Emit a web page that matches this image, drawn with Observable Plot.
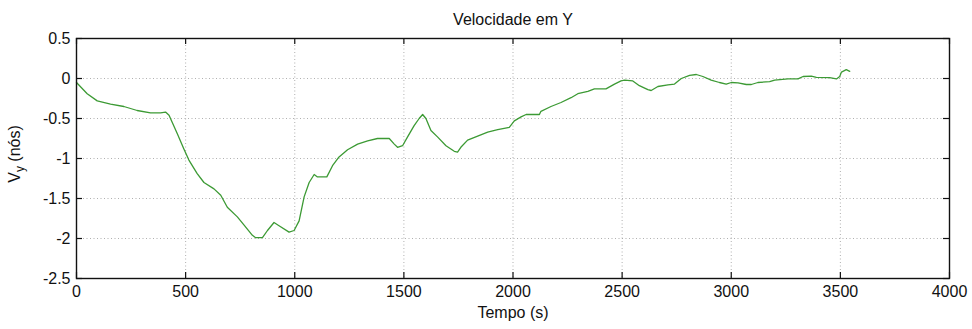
<!DOCTYPE html>
<html>
<head>
<meta charset="utf-8">
<script src="https://cdn.jsdelivr.net/npm/d3@7"></script>
<script src="https://cdn.jsdelivr.net/npm/@observablehq/plot@0.6"></script>
<style>
  html, body { margin: 0; padding: 0; background: #fff; }
  #chart { width: 972px; height: 329px; }
</style>
</head>
<body>
<div id="chart"></div>
<script>
// Lateral velocity (Vy, knots) over time (s)
const tempo = [
  0, 49, 95, 156, 217, 278, 339, 385, 408, 424,
  462, 492, 515, 553, 584, 630, 661, 691, 737, 767,
  806, 821, 852, 875, 905, 928, 974, 997, 1020, 1043,
  1066, 1089, 1104, 1147, 1173, 1203, 1242, 1288, 1334, 1379,
  1433, 1456, 1471, 1494, 1517, 1547, 1570, 1586, 1601, 1624,
  1654, 1693, 1731, 1746, 1761, 1792, 1838, 1884, 1930, 1983,
  2006, 2037, 2060, 2121, 2128, 2174, 2220, 2266, 2297, 2343,
  2373, 2426, 2465, 2495, 2511, 2549, 2579, 2618, 2633, 2664,
  2710, 2740, 2771, 2809, 2840, 2870, 2908, 2946, 2977, 3000,
  3031, 3069, 3092, 3122, 3176, 3199, 3260, 3306, 3329, 3367,
  3390, 3451, 3482, 3497, 3505, 3527, 3543
];
const vy = [
  -0.05, -0.19, -0.28, -0.32, -0.35, -0.40, -0.43, -0.43, -0.42, -0.46,
  -0.69, -0.88, -1.02, -1.19, -1.30, -1.38, -1.46, -1.61, -1.73, -1.83,
  -1.96, -1.99, -1.99, -1.90, -1.80, -1.84, -1.92, -1.90, -1.78, -1.48,
  -1.30, -1.20, -1.23, -1.23, -1.09, -0.98, -0.89, -0.82, -0.78, -0.75,
  -0.75, -0.82, -0.86, -0.84, -0.73, -0.59, -0.50, -0.45, -0.50, -0.65,
  -0.73, -0.84, -0.91, -0.92, -0.86, -0.77, -0.72, -0.67, -0.64, -0.61,
  -0.53, -0.48, -0.45, -0.45, -0.41, -0.35, -0.30, -0.24, -0.19, -0.16,
  -0.13, -0.13, -0.07, -0.03, -0.02, -0.03, -0.09, -0.14, -0.15, -0.10,
  -0.08, -0.07, 0.00, 0.04, 0.05, 0.025, -0.02, -0.05, -0.07, -0.05,
  -0.055, -0.075, -0.075, -0.05, -0.04, -0.02, -0.005, -0.005, 0.025, 0.03,
  0.015, 0.01, -0.005, 0.025, 0.08, 0.11, 0.09
];

const xTicks = [0, 500, 1000, 1500, 2000, 2500, 3000, 3500, 4000];
const yTicks = [-2.5, -2, -1.5, -1, -0.5, 0, 0.5];

const titulo = "Velocidade em Y";
const rotuloX = "Tempo (s)";

const serie = tempo.map((t, i) => ({t, v: vy[i]}));

const W = 972, H = 329;
const mL = 76, mR = 23, mT = 38, mB = 51;
const frameW = W - mL - mR, frameH = H - mT - mB;
const tick = 6;
const gridStyle = {stroke: "#8a8a8a", strokeOpacity: 0.85, strokeDasharray: "1,2.5", strokeWidth: 0.8};

const svg = Plot.plot({
  width: W,
  height: H,
  marginLeft: mL,
  marginRight: mR,
  marginTop: mT,
  marginBottom: mB,
  style: {fontFamily: "'Liberation Sans', Arial, Helvetica, sans-serif", fontSize: "16px", background: "#fff", color: "#111"},
  x: {domain: [0, 4000]},
  y: {domain: [-2.5, 0.5]},
  marks: [
    Plot.gridX(xTicks, gridStyle),
    Plot.gridY(yTicks, gridStyle),
    // inward tick marks on all four sides
    Plot.tickX(xTicks, {x: d => d, insetTop: frameH - tick, stroke: "#111", strokeWidth: 1.2}),
    Plot.tickX(xTicks, {x: d => d, insetBottom: frameH - tick, stroke: "#111", strokeWidth: 1.2}),
    Plot.tickY(yTicks, {y: d => d, insetRight: frameW - tick, stroke: "#111", strokeWidth: 1.2}),
    Plot.tickY(yTicks, {y: d => d, insetLeft: frameW - tick, stroke: "#111", strokeWidth: 1.2}),
    Plot.axisX(xTicks, {tickSize: 0, tickPadding: 7, tickFormat: d => String(d), label: null, fontSize: 16, fill: "#111"}),
    Plot.axisY(yTicks, {tickSize: 0, tickPadding: 6, tickFormat: d => String(d), label: null, fontSize: 16, fill: "#111"}),
    Plot.line(serie, {x: "t", y: "v", stroke: "#3c9a34", strokeWidth: 1.3}),
    Plot.frame({stroke: "#111", strokeWidth: 1.4}),
    Plot.text([titulo], {frameAnchor: "top", dy: -25, fontSize: 16, fill: "#111"}),
    Plot.text([rotuloX], {frameAnchor: "bottom", dy: 39, fontSize: 16, fill: "#111"})
  ]
});

// y-axis label with subscript
const yl = d3.select(svg).append("text")
  .attr("transform", `translate(20,${mT + frameH / 2 - 4}) rotate(-90)`)
  .attr("text-anchor", "middle")
  .attr("font-size", 16)
  .attr("fill", "#111");
yl.append("tspan").text("V");
yl.append("tspan").attr("dy", 4).attr("font-size", 12).text("y");
yl.append("tspan").attr("dy", -4).text(" (nós)");

document.getElementById("chart").appendChild(svg);
</script>
</body>
</html>
